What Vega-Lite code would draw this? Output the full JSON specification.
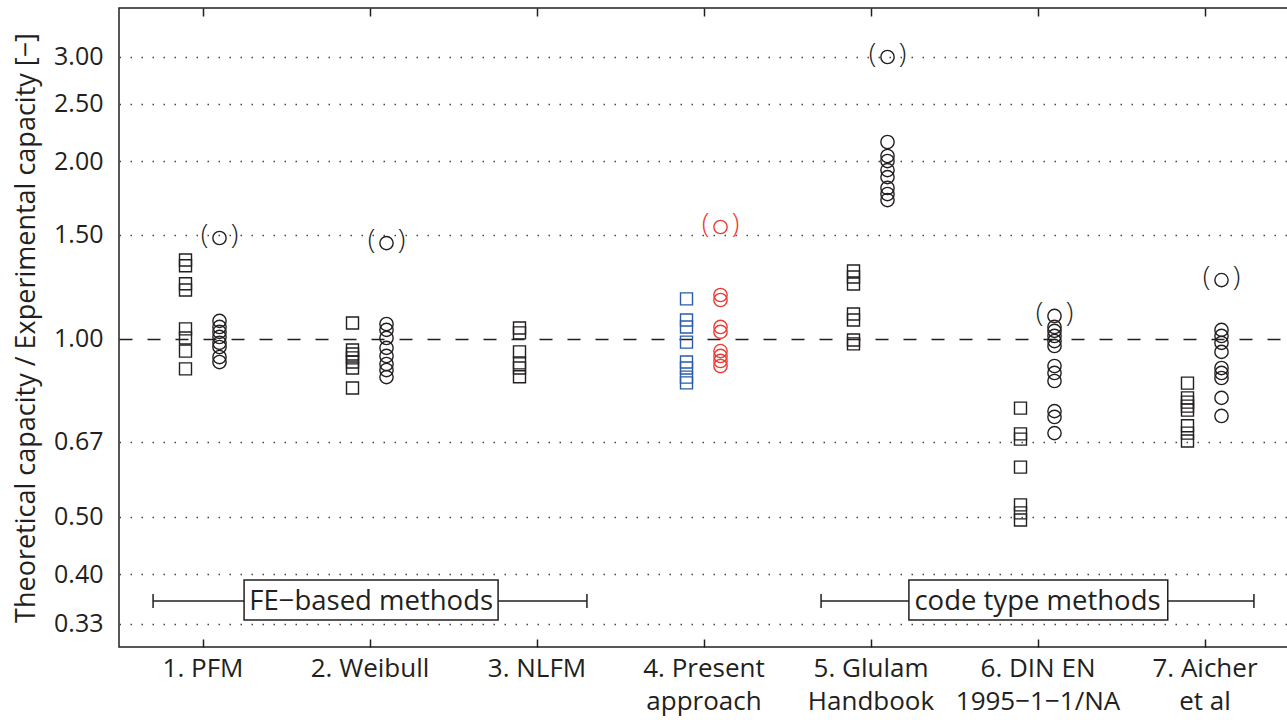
{
  "$schema": "https://vega.github.io/schema/vega-lite/v6.json",
  "autosize": "none",
  "width": 1169,
  "height": 639,
  "padding": {"left": 119, "top": 8, "right": 0, "bottom": 73},
  "background": "white",
  "config": {
    "view": {"stroke": "#231f20", "strokeWidth": 1.5},
    "font": "Open Sans"
  },
  "datasets": {
    "pts": [
      {"m": 1, "type": "sq", "s": "ref", "v": 1.36},
      {"m": 1, "type": "sq", "s": "ref", "v": 1.33},
      {"m": 1, "type": "sq", "s": "ref", "v": 1.24},
      {"m": 1, "type": "sq", "s": "ref", "v": 1.21},
      {"m": 1, "type": "sq", "s": "ref", "v": 1.04},
      {"m": 1, "type": "sq", "s": "ref", "v": 1.004},
      {"m": 1, "type": "sq", "s": "ref", "v": 0.954},
      {"m": 1, "type": "sq", "s": "ref", "v": 0.89},
      {"m": 1, "type": "ci", "s": "ref", "v": 1.482, "out": true},
      {"m": 1, "type": "ci", "s": "ref", "v": 1.073},
      {"m": 1, "type": "ci", "s": "ref", "v": 1.048},
      {"m": 1, "type": "ci", "s": "ref", "v": 1.028},
      {"m": 1, "type": "ci", "s": "ref", "v": 1.008},
      {"m": 1, "type": "ci", "s": "ref", "v": 0.985},
      {"m": 1, "type": "ci", "s": "ref", "v": 0.969},
      {"m": 1, "type": "ci", "s": "ref", "v": 0.932},
      {"m": 1, "type": "ci", "s": "ref", "v": 0.914},
      {"m": 2, "type": "sq", "s": "ref", "v": 1.064},
      {"m": 2, "type": "sq", "s": "ref", "v": 0.958},
      {"m": 2, "type": "sq", "s": "ref", "v": 0.943},
      {"m": 2, "type": "sq", "s": "ref", "v": 0.929},
      {"m": 2, "type": "sq", "s": "ref", "v": 0.914},
      {"m": 2, "type": "sq", "s": "ref", "v": 0.893},
      {"m": 2, "type": "sq", "s": "ref", "v": 0.826},
      {"m": 2, "type": "ci", "s": "ref", "v": 1.453, "out": true},
      {"m": 2, "type": "ci", "s": "ref", "v": 1.06},
      {"m": 2, "type": "ci", "s": "ref", "v": 1.036},
      {"m": 2, "type": "ci", "s": "ref", "v": 1.004},
      {"m": 2, "type": "ci", "s": "ref", "v": 0.966},
      {"m": 2, "type": "ci", "s": "ref", "v": 0.936},
      {"m": 2, "type": "ci", "s": "ref", "v": 0.907},
      {"m": 2, "type": "ci", "s": "ref", "v": 0.886},
      {"m": 2, "type": "ci", "s": "ref", "v": 0.862},
      {"m": 3, "type": "sq", "s": "ref", "v": 1.044},
      {"m": 3, "type": "sq", "s": "ref", "v": 1.024},
      {"m": 3, "type": "sq", "s": "ref", "v": 0.951},
      {"m": 3, "type": "sq", "s": "ref", "v": 0.911},
      {"m": 3, "type": "sq", "s": "ref", "v": 0.893},
      {"m": 3, "type": "sq", "s": "ref", "v": 0.863},
      {"m": 4, "type": "sq", "s": "blue", "v": 1.169},
      {"m": 4, "type": "sq", "s": "blue", "v": 1.077},
      {"m": 4, "type": "sq", "s": "blue", "v": 1.048},
      {"m": 4, "type": "sq", "s": "blue", "v": 0.988},
      {"m": 4, "type": "sq", "s": "blue", "v": 0.914},
      {"m": 4, "type": "sq", "s": "blue", "v": 0.893},
      {"m": 4, "type": "sq", "s": "blue", "v": 0.862},
      {"m": 4, "type": "sq", "s": "blue", "v": 0.843},
      {"m": 4, "type": "ci", "s": "red", "v": 1.547, "out": true},
      {"m": 4, "type": "ci", "s": "red", "v": 1.187},
      {"m": 4, "type": "ci", "s": "red", "v": 1.164},
      {"m": 4, "type": "ci", "s": "red", "v": 1.048},
      {"m": 4, "type": "ci", "s": "red", "v": 1.028},
      {"m": 4, "type": "ci", "s": "red", "v": 0.954},
      {"m": 4, "type": "ci", "s": "red", "v": 0.936},
      {"m": 4, "type": "ci", "s": "red", "v": 0.918},
      {"m": 4, "type": "ci", "s": "red", "v": 0.9},
      {"m": 5, "type": "sq", "s": "ref", "v": 1.303},
      {"m": 5, "type": "sq", "s": "ref", "v": 1.273},
      {"m": 5, "type": "sq", "s": "ref", "v": 1.239},
      {"m": 5, "type": "sq", "s": "ref", "v": 1.102},
      {"m": 5, "type": "sq", "s": "ref", "v": 1.077},
      {"m": 5, "type": "sq", "s": "ref", "v": 0.996},
      {"m": 5, "type": "sq", "s": "ref", "v": 0.981},
      {"m": 5, "type": "ci", "s": "ref", "v": 3.0, "out": true},
      {"m": 5, "type": "ci", "s": "ref", "v": 2.154},
      {"m": 5, "type": "ci", "s": "ref", "v": 2.04},
      {"m": 5, "type": "ci", "s": "ref", "v": 2.0},
      {"m": 5, "type": "ci", "s": "ref", "v": 1.931},
      {"m": 5, "type": "ci", "s": "ref", "v": 1.879},
      {"m": 5, "type": "ci", "s": "ref", "v": 1.801},
      {"m": 5, "type": "ci", "s": "ref", "v": 1.759},
      {"m": 5, "type": "ci", "s": "ref", "v": 1.718},
      {"m": 6, "type": "sq", "s": "ref", "v": 0.764},
      {"m": 6, "type": "sq", "s": "ref", "v": 0.691},
      {"m": 6, "type": "sq", "s": "ref", "v": 0.677},
      {"m": 6, "type": "sq", "s": "ref", "v": 0.607},
      {"m": 6, "type": "sq", "s": "ref", "v": 0.524},
      {"m": 6, "type": "sq", "s": "ref", "v": 0.508},
      {"m": 6, "type": "sq", "s": "ref", "v": 0.494},
      {"m": 6, "type": "ci", "s": "ref", "v": 1.094, "out": true},
      {"m": 6, "type": "ci", "s": "ref", "v": 1.048},
      {"m": 6, "type": "ci", "s": "ref", "v": 1.032},
      {"m": 6, "type": "ci", "s": "ref", "v": 1.012},
      {"m": 6, "type": "ci", "s": "ref", "v": 0.992},
      {"m": 6, "type": "ci", "s": "ref", "v": 0.973},
      {"m": 6, "type": "ci", "s": "ref", "v": 0.9},
      {"m": 6, "type": "ci", "s": "ref", "v": 0.876},
      {"m": 6, "type": "ci", "s": "ref", "v": 0.849},
      {"m": 6, "type": "ci", "s": "ref", "v": 0.755},
      {"m": 6, "type": "ci", "s": "ref", "v": 0.738},
      {"m": 6, "type": "ci", "s": "ref", "v": 0.693},
      {"m": 7, "type": "sq", "s": "ref", "v": 0.842},
      {"m": 7, "type": "sq", "s": "ref", "v": 0.795},
      {"m": 7, "type": "sq", "s": "ref", "v": 0.782},
      {"m": 7, "type": "sq", "s": "ref", "v": 0.77},
      {"m": 7, "type": "sq", "s": "ref", "v": 0.758},
      {"m": 7, "type": "sq", "s": "ref", "v": 0.713},
      {"m": 7, "type": "sq", "s": "ref", "v": 0.693},
      {"m": 7, "type": "sq", "s": "ref", "v": 0.672},
      {"m": 7, "type": "ci", "s": "ref", "v": 1.258, "out": true},
      {"m": 7, "type": "ci", "s": "ref", "v": 1.036},
      {"m": 7, "type": "ci", "s": "ref", "v": 1.012},
      {"m": 7, "type": "ci", "s": "ref", "v": 0.985},
      {"m": 7, "type": "ci", "s": "ref", "v": 0.951},
      {"m": 7, "type": "ci", "s": "ref", "v": 0.893},
      {"m": 7, "type": "ci", "s": "ref", "v": 0.876},
      {"m": 7, "type": "ci", "s": "ref", "v": 0.859},
      {"m": 7, "type": "ci", "s": "ref", "v": 0.795},
      {"m": 7, "type": "ci", "s": "ref", "v": 0.741}
    ],
    "ann": [
      {"label": "FE−based methods", "x1": 0.704, "x2": 3.302, "xc": 2.01, "bx1": 1.249, "bx2": 2.77, "y": 0.3604, "ylo": 0.3507, "yhi": 0.3703, "by1": 0.3346, "by2": 0.391},
      {"label": "code type methods", "x1": 4.704, "x2": 7.296, "xc": 6.0, "bx1": 5.23, "bx2": 6.78, "y": 0.3604, "ylo": 0.3507, "yhi": 0.3703, "by1": 0.3346, "by2": 0.391}
    ]
  },
  "layer": [
    {
      "data": {"name": "pts"},
      "transform": [{"filter": "datum.type == 'sq'"}],
      "mark": {"type": "point", "shape": "square", "filled": false, "size": 144, "strokeWidth": 1.4, "opacity": 1, "xOffset": -17},
      "encoding": {
        "x": {
          "field": "m", "type": "quantitative",
          "scale": {"domain": [0.5, 7.5], "nice": false, "zero": false},
          "axis": {
            "orient": "bottom", "values": [1, 2, 3, 4, 5, 6, 7], "title": null, "grid": false, "domain": false,
            "ticks": true, "tickSize": -8, "tickWidth": 1.5, "tickColor": "#231f20",
            "labelPadding": 16, "labelFontSize": 26, "labelColor": "#231f20", "labelLineHeight": 33,
            "labelBaseline": "top",
            "labelExpr": "datum.value == 1 ? '1. PFM' : datum.value == 2 ? '2. Weibull' : datum.value == 3 ? '3. NLFM' : datum.value == 4 ? ['4. Present', 'approach'] : datum.value == 5 ? ['5. Glulam', 'Handbook'] : datum.value == 6 ? ['6. DIN EN', '1995−1−1/NA'] : ['7. Aicher', 'et al']"
          }
        },
        "y": {
          "field": "v", "type": "quantitative",
          "scale": {"type": "log", "domain": [0.3012, 3.631], "nice": false, "zero": false},
          "axis": {
            "values": [0.33, 0.4, 0.5, 0.67, 1, 1.5, 2, 2.5, 3], "format": ".2f",
            "title": "Theoretical capacity / Experimental capacity   [−]",
            "titleFontSize": 27, "titleFontWeight": "normal", "titleColor": "#231f20", "titlePadding": 13,
            "labelFontSize": 25, "labelColor": "#231f20", "labelPadding": 16,
            "ticks": false, "domain": false, "grid": true,
            "gridColor": {"condition": {"test": "datum.value == 1", "value": "#231f20"}, "value": "#444444"},
            "gridDash": {"condition": {"test": "datum.value == 1", "value": [13, 15]}, "value": [1.5, 9.5]},
            "gridWidth": 1.3
          }
        },
        "color": {
          "field": "s", "type": "nominal", "legend": null,
          "scale": {"domain": ["ref", "blue", "red"], "range": ["#231f20", "#2a5caa", "#ee3a32"]}
        }
      }
    },
    {
      "data": {"name": "pts"},
      "transform": [{"filter": "datum.type == 'ci'"}],
      "mark": {"type": "point", "shape": "circle", "filled": false, "size": 177, "strokeWidth": 1.4, "opacity": 1, "xOffset": 17},
      "encoding": {
        "x": {
          "field": "m", "type": "quantitative",
          "axis": {"orient": "top", "values": [1, 2, 3, 4, 5, 6, 7], "title": null, "grid": false, "domain": false, "labels": false,
            "ticks": true, "tickSize": -8, "tickWidth": 1.5, "tickColor": "#231f20"}
        },
        "y": {"field": "v", "type": "quantitative"},
        "color": {"field": "s", "type": "nominal", "legend": null}
      }
    },
    {
      "data": {"name": "pts"},
      "transform": [{"filter": "datum.out == true"}],
      "mark": {"type": "text", "text": "(", "fontSize": 28, "fontWeight": 300, "dx": 2, "baseline": "middle", "align": "center", "dy": -2},
      "encoding": {
        "x": {"field": "m", "type": "quantitative", "axis": null},
        "y": {"field": "v", "type": "quantitative"},
        "color": {"field": "s", "type": "nominal", "legend": null}
      }
    },
    {
      "data": {"name": "pts"},
      "transform": [{"filter": "datum.out == true"}],
      "mark": {"type": "text", "text": ")", "fontSize": 28, "fontWeight": 300, "dx": 32, "baseline": "middle", "align": "center", "dy": -2},
      "encoding": {
        "x": {"field": "m", "type": "quantitative", "axis": null},
        "y": {"field": "v", "type": "quantitative"},
        "color": {"field": "s", "type": "nominal", "legend": null}
      }
    },
    {
      "data": {"name": "ann"},
      "mark": {"type": "rule", "color": "#231f20", "strokeWidth": 1.5},
      "encoding": {
        "x": {"field": "x1", "type": "quantitative", "axis": null},
        "x2": {"field": "x2"},
        "y": {"field": "y", "type": "quantitative"}
      }
    },
    {
      "data": {"name": "ann"},
      "mark": {"type": "rule", "color": "#231f20", "strokeWidth": 1.5},
      "encoding": {
        "x": {"field": "x1", "type": "quantitative", "axis": null},
        "y": {"field": "ylo", "type": "quantitative"},
        "y2": {"field": "yhi"}
      }
    },
    {
      "data": {"name": "ann"},
      "mark": {"type": "rule", "color": "#231f20", "strokeWidth": 1.5},
      "encoding": {
        "x": {"field": "x2", "type": "quantitative", "axis": null},
        "y": {"field": "ylo", "type": "quantitative"},
        "y2": {"field": "yhi"}
      }
    },
    {
      "data": {"name": "ann"},
      "mark": {"type": "rect", "fill": "white", "stroke": "#231f20", "strokeWidth": 1.5},
      "encoding": {
        "x": {"field": "bx1", "type": "quantitative", "axis": null},
        "x2": {"field": "bx2"},
        "y": {"field": "by1", "type": "quantitative"},
        "y2": {"field": "by2"}
      }
    },
    {
      "data": {"name": "ann"},
      "mark": {"type": "text", "fontSize": 27.5, "color": "#231f20", "baseline": "middle", "align": "center", "dy": 1},
      "encoding": {
        "x": {"field": "xc", "type": "quantitative", "axis": null},
        "y": {"field": "y", "type": "quantitative"},
        "text": {"field": "label"}
      }
    }
  ],
  "resolve": {"axis": {"x": "independent"}}
}
